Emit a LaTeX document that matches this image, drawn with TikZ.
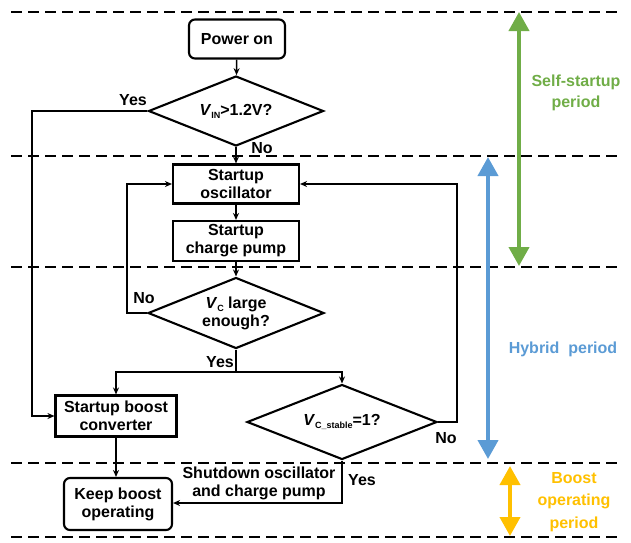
\documentclass[tikz,border=0pt]{standalone}
\usepackage{fontspec}
\setmainfont{Liberation Sans}
\usetikzlibrary{shapes.geometric,arrows.meta}
\definecolor{cgreen}{HTML}{70AD47}
\definecolor{cblue}{HTML}{5B9BD5}
\definecolor{cyellow}{HTML}{FFC000}
\newcommand\sbs[1]{\raisebox{-0.35ex}{\fontsize{9}{9}\selectfont #1}}
\begin{document}
\begin{tikzpicture}[x=1pt,y=-1pt,
  every node/.style={font=\bfseries\fontsize{16}{18}\selectfont, inner sep=0pt},
  box/.style={draw, line width=2.1pt, align=center},
  rbox/.style={box, rounded corners=6pt},
  dec/.style={draw, diamond, line width=2.1pt, align=center, shape aspect=2.5},
  conn/.style={line width=1.5pt},
  arr/.style={conn, -{Stealth[length=7pt,width=6pt]}},
  sep/.style={line width=2.2pt, dash pattern=on 11pt off 6pt},
  period/.style={line width=4pt, {Triangle[length=19pt,width=20pt]}-{Triangle[length=19pt,width=20pt]}},
  lab/.style={align=center}
]
\useasboundingbox (0,0) rectangle (631,542);
% separators
\foreach \yy in {12,156,267,463,537} \draw[sep] (11,\yy) -- (617,\yy);
% nodes
\node[rbox, minimum width=96pt, minimum height=39pt] (power) at (237,39) {Power on};
\node[dec, minimum width=175pt, minimum height=70pt] (d1) at (236,111) {\textit{V}\sbs{IN}>1.2V?};
\node[box, minimum width=126pt, minimum height=39pt] (osc) at (236,184) {Startup\\oscillator};
\node[box, minimum width=126pt, minimum height=40pt] (cp) at (236,241) {Startup\\charge pump};
\node[dec, minimum width=176pt, minimum height=71pt] (d2) at (236,313) {\textit{V}\sbs{C} large\\enough?};
\node[box, minimum width=121pt, minimum height=41pt] (boost) at (116,416) {Startup boost\\converter};
\node[dec, minimum width=190pt, minimum height=75pt] (d3) at (342,422) {\textit{V}\sbs{C\_stable}=1?};
\node[rbox, minimum width=108pt, minimum height=52pt] (keep) at (118,504) {Keep boost\\operating};
% coordinates
\coordinate (yl) at (32,111);
\coordinate (nl) at (127,313);
\coordinate (nr) at (457,422);
\coordinate (j1) at (236,372);
\coordinate (yb) at (342,503);
% connectors
\draw[arr] (power) -- (d1);
\draw[arr] (d1) -- (osc);
\draw[arr] (osc) -- (cp);
\draw[arr] (cp) -- (d2);
\draw[arr] (d1.west) -- (yl) |- (boost.west);
\draw[arr] (d2.west) -- (nl) |- (osc.west);
\draw[arr] (d3.east) -- (nr) |- (osc.east);
\draw[conn] (d2.south) -- (j1);
\draw[arr] (j1) -| (boost.north);
\draw[arr] (j1) -| (d3.north);
\draw[arr] (boost.south) -- (boost.south |- keep.north);
\draw[arr] (d3.south) -- (yb) -- (yb -| keep.east);
% labels
\node (ly1) at (133,100) {Yes};
\node (ln1) at (262,148) {No};
\node (ln2) at (144,298) {No};
\node (ly2) at (220,362) {Yes};
\node (ln3) at (446,438) {No};
\node (ly3) at (362,480) {Yes};
\node[lab] (lsd) at (259,483) {Shutdown oscillator\\and charge pump};
% periods
\coordinate (g1) at (519,12); \coordinate (g2) at (519,266);
\coordinate (b1) at (488,157); \coordinate (b2) at (488,459);
\coordinate (y1) at (510,466); \coordinate (y2) at (510,536);
\draw[period, cgreen] (g1) -- (g2);
\draw[period, cblue] (b1) -- (b2);
\draw[period, cyellow] (y1) -- (y2);
\node[lab, text=cgreen, font=\bfseries\fontsize{16}{21}\selectfont] (tg) at (576,93) {Self-startup\\period};
\node[lab, text=cblue] (tb) at (563,349) {Hybrid\ \ period};
\node[lab, text=cyellow, font=\bfseries\fontsize{16}{22.5}\selectfont] (ty) at (574,502) {Boost\\operating\\period};
\end{tikzpicture}
\end{document}
